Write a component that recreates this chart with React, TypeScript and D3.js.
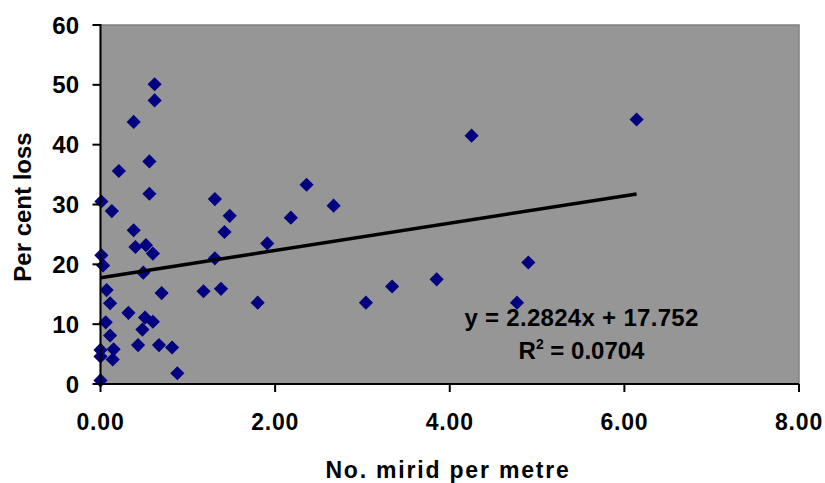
import React from "react";
import * as d3 from "d3";

const xValues = [0.62, 0.62, 0.38, 0.56, 0.21, 0.56, 1.31, 2.36, 0.01, 0.13, 1.48, 1.42, 2.18, 0.38, 0.40, 0.52, 0.60, 1.91, 0.01, 0.03, 0.49, 1.31, 0.07, 0.11, 0.70, 1.18, 1.38, 1.80, 0.32, 0.06, 0.51, 0.48, 0.60, 0.11, 0.43, 0.67, 0.82, 0.15, 0.00, 0.00, 0.14, 0.88, 0.00, 4.25, 2.67, 3.04, 3.34, 3.85, 4.90, 4.77, 6.14];
const yValues = [50.1, 47.4, 43.8, 37.2, 35.6, 31.8, 30.9, 33.3, 30.5, 28.9, 28.1, 25.4, 27.8, 25.7, 22.9, 23.2, 21.8, 23.5, 21.5, 19.8, 18.6, 21.0, 15.7, 13.5, 15.2, 15.5, 15.9, 13.6, 11.9, 10.3, 11.1, 9.1, 10.4, 8.1, 6.5, 6.5, 6.1, 5.8, 5.7, 4.6, 4.1, 1.8, 0.6, 41.5, 29.8, 13.6, 16.3, 17.5, 20.3, 13.6, 44.2];
const xTicks = [0, 2, 4, 6, 8];
const yTicks = [0, 10, 20, 30, 40, 50, 60];
const slope = 2.2824;
const intercept = 17.752;
const rSquared = "0.0704";

const W = 825;
const H = 483;
const FONT = "'Liberation Sans', Arial, sans-serif";

export default function App() {
  const x = d3.scaleLinear().domain([0, 8]).range([100.5, 799]);
  const y = d3.scaleLinear().domain([0, 60]).range([384, 25]);
  const pts = xValues.map((v, i) => ({ x: v, y: yValues[i] }));
  const xMax = d3.max(xValues) as number;
  const trend = d3.line<number>().x((d) => x(d)).y((d) => y(slope * d + intercept));
  const diamond = d3.symbol().type(d3.symbolDiamond2).size(128)();
  const fmt = d3.format(".2f");

  return (
    <svg width={W} height={H} style={{ position: "absolute", left: 0, top: 0, background: "#fff" }}>
      <rect x={x(0)} y={y(60)} width={x(8) - x(0)} height={y(0) - y(60)} fill="#969696" stroke="#808080" strokeWidth={1.5} />
      {pts.map((p, i) => (
        <path key={i} d={diamond} transform={`translate(${x(p.x)},${y(p.y)})`} fill="#000080" />
      ))}
      <path d={trend([0, xMax]) || ""} stroke="#000" strokeWidth={3.5} fill="none" />
      <line x1={x(0)} x2={x(0)} y1={y(60) - 1} y2={y(0) + 1} stroke="#000" strokeWidth={2} />
      <line x1={x(0) - 1} x2={x(8)} y1={y(0)} y2={y(0)} stroke="#000" strokeWidth={2} />
      {yTicks.map((t) => (
        <g key={"y" + t}>
          <line x1={x(0) - 8} x2={x(0)} y1={y(t)} y2={y(t)} stroke="#000" strokeWidth={2} />
          <text x={79} y={y(t)} dy="0.36em" textAnchor="end" fontFamily={FONT} fontWeight="bold" fontSize={24} fill="#000">
            {t}
          </text>
        </g>
      ))}
      {xTicks.map((t) => (
        <g key={"x" + t}>
          <line x1={x(t)} x2={x(t)} y1={y(0)} y2={y(0) + 8} stroke="#000" strokeWidth={2} />
          <text x={x(t)} y={430} textAnchor="middle" fontFamily={FONT} fontWeight="bold" fontSize={23} letterSpacing={0.8} fill="#000">
            {fmt(t)}
          </text>
        </g>
      ))}
      <text x={448} y={478} textAnchor="middle" fontFamily={FONT} fontWeight="bold" fontSize={23} letterSpacing={1.8} fill="#000">
        No. mirid per metre
      </text>
      <text transform="translate(31,207) rotate(-90)" textAnchor="middle" fontFamily={FONT} fontWeight="bold" fontSize={24} fill="#000">
        Per cent loss
      </text>
      <text x={581.5} y={326} textAnchor="middle" fontFamily={FONT} fontWeight="bold" fontSize={24} letterSpacing={0.3} fill="#000">
        {`y = ${slope}x + ${intercept}`}
      </text>
      <text x={581.5} y={359} textAnchor="middle" fontFamily={FONT} fontWeight="bold" fontSize={24} fill="#000">
        R<tspan fontSize={14} dy={-10}>2</tspan><tspan dy={10}>{` = ${rSquared}`}</tspan>
      </text>
    </svg>
  );
}
